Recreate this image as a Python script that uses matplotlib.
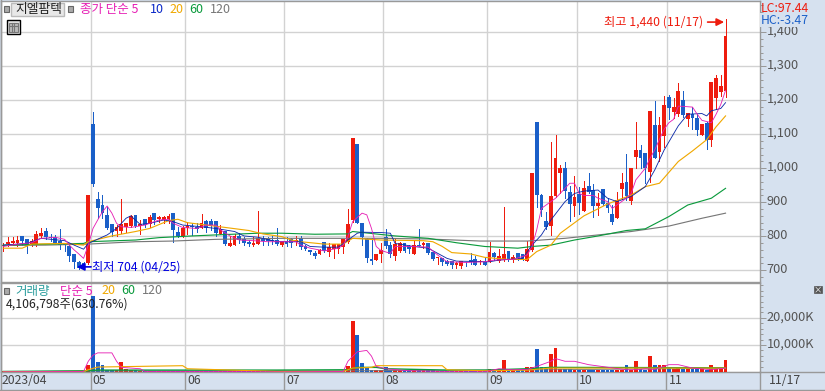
# stock chart with candles, moving averages and volume panel

import matplotlib
matplotlib.use("Agg")
import matplotlib.pyplot as plt
from matplotlib.patches import Rectangle
from matplotlib.ticker import MultipleLocator, FuncFormatter
from matplotlib.transforms import ScaledTranslation

plt.rcParams['font.family'] = ['Noto Sans CJK KR', 'DejaVu Sans']

# body top, body bottom, high, low
body_top = [774, 783, 785, 788, 801, 792, 786, 807, 810, 816, 799, 799, 787, 776, 772, 747, 724, 721, 921, 1130,
            910, 892, 862, 835, 828, 835, 838, 860, 862, 835, 851, 856, 868, 856, 856, 860, 868, 814, 825, 830,
            830, 828, 838, 845, 846, 846, 821, 815, 779, 802, 801, 791, 784, 779, 794, 791, 791, 790, 789, 786,
            786, 792, 789, 794, 770, 760, 750, 760, 783, 768, 776, 776, 791, 836, 1088, 1071, 838, 791, 732, 748,
            760, 799, 774, 777, 779, 780, 770, 773, 774, 779, 779, 754, 738, 735, 727, 727, 721, 727, 725, 729,
            732, 727, 724, 754, 752, 742, 747, 756, 740, 750, 749, 764, 985, 1135, 921, 845, 919, 1030, 1002, 1002,
            930, 916, 923, 942, 948, 936, 897, 938, 897, 866, 907, 958, 959, 1001, 1054, 1054, 1044, 1169, 1127, 1127,
            1187, 1210, 1180, 1227, 1201, 1163, 1159, 1149, 1131, 1134, 1254, 1265, 1242, 1389]
body_bot = [770, 777, 781, 781, 787, 774, 774, 774, 802, 797, 794, 781, 773, 773, 742, 723, 706, 711, 721, 953,
            884, 868, 823, 814, 816, 815, 828, 830, 830, 830, 833, 835, 848, 850, 848, 850, 819, 802, 802, 825,
            828, 821, 825, 825, 833, 809, 808, 777, 770, 773, 789, 779, 777, 773, 778, 786, 787, 785, 777, 773,
            777, 779, 782, 767, 763, 755, 743, 748, 757, 755, 762, 764, 768, 784, 848, 840, 797, 737, 727, 730,
            748, 772, 748, 742, 758, 758, 762, 748, 772, 774, 752, 733, 735, 724, 719, 716, 717, 713, 723, 723,
            717, 723, 717, 723, 738, 728, 732, 730, 732, 735, 733, 728, 760, 920, 877, 826, 830, 917, 987, 934,
            895, 889, 897, 874, 931, 889, 889, 895, 884, 843, 855, 939, 919, 904, 1033, 1029, 1001, 990, 1031, 1049,
            1095, 1178, 1166, 1161, 1157, 1144, 1149, 1113, 1097, 1082, 1082, 1208, 1225, 1227]
highs = [779, 797, 799, 801, 801, 792, 791, 816, 823, 823, 806, 803, 822, 776, 779, 747, 728, 725, 921, 1165,
         930, 921, 887, 835, 833, 910, 838, 863, 863, 848, 851, 863, 868, 860, 860, 866, 868, 828, 831, 841,
         838, 838, 866, 848, 850, 846, 833, 815, 801, 807, 809, 797, 789, 797, 874, 801, 799, 801, 823, 786,
         797, 794, 801, 801, 774, 760, 758, 762, 783, 779, 776, 776, 791, 880, 1088, 1071, 838, 794, 794, 748,
         779, 822, 784, 794, 782, 780, 774, 789, 822, 784, 779, 754, 738, 735, 730, 727, 724, 727, 725, 750,
         742, 730, 735, 784, 755, 762, 885, 756, 745, 750, 749, 786, 985, 1135, 924, 872, 1076, 1098, 1010, 1018,
         948, 977, 944, 964, 985, 954, 926, 938, 912, 892, 931, 987, 1042, 1001, 1136, 1069, 1044, 1169, 1198, 1151,
         1213, 1215, 1208, 1250, 1227, 1163, 1180, 1159, 1131, 1136, 1254, 1274, 1274, 1440]
lows = [758, 770, 774, 770, 774, 752, 770, 770, 799, 791, 787, 779, 762, 758, 728, 708, 704, 706, 719, 948,
        855, 853, 820, 801, 801, 809, 814, 828, 826, 807, 828, 828, 836, 843, 840, 838, 784, 799, 799, 807,
        804, 814, 823, 814, 819, 801, 807, 774, 770, 773, 779, 774, 770, 770, 777, 774, 774, 777, 774, 770,
        772, 768, 773, 763, 760, 748, 737, 748, 755, 742, 736, 750, 750, 781, 843, 838, 774, 725, 719, 730,
        724, 765, 740, 730, 755, 753, 752, 748, 770, 765, 748, 730, 718, 716, 716, 706, 706, 706, 713, 719,
        716, 719, 716, 723, 730, 725, 728, 728, 725, 730, 730, 728, 758, 887, 860, 821, 804, 915, 928, 913,
        846, 860, 866, 874, 926, 856, 863, 892, 870, 836, 855, 909, 907, 895, 1000, 1000, 957, 961, 1031, 1020,
        1063, 1144, 1149, 1154, 1152, 1125, 1115, 1098, 1097, 1056, 1066, 1174, 1213, 1210]
is_up = [1, 1, 1, 1, 0, 0, 1, 1, 1, 0, 0, 0, 0, 0, 0, 0, 0, 0, 1, 0,
         0, 0, 0, 0, 1, 1, 1, 1, 0, 1, 0, 1, 0, 1, 1, 1, 0, 0, 1, 1,
         0, 0, 1, 0, 0, 0, 1, 0, 1, 1, 0, 0, 0, 1, 1, 0, 0, 0, 0, 1,
         0, 0, 1, 0, 0, 0, 0, 1, 0, 1, 1, 1, 1, 1, 1, 0, 0, 0, 0, 1,
         1, 0, 0, 1, 1, 0, 0, 1, 0, 1, 0, 0, 1, 0, 0, 0, 1, 1, 0, 0,
         0, 1, 0, 1, 0, 1, 1, 0, 1, 0, 0, 1, 1, 0, 0, 0, 1, 1, 1, 0,
         0, 1, 0, 1, 0, 0, 1, 0, 0, 0, 1, 1, 0, 1, 1, 0, 0, 1, 0, 1,
         1, 0, 1, 1, 0, 1, 0, 0, 1, 0, 1, 1, 1, 1]

ma5_i = [0, 3, 6, 8, 11, 13, 14, 15, 16, 17, 18, 19, 20, 21, 22, 23, 24, 25, 27, 30, 33, 35, 36, 38, 41, 43, 45, 46,
         48, 50, 53, 56, 59, 62, 63, 65, 68, 71, 72, 73, 74, 76, 77, 78, 79, 80, 82, 83, 85, 87, 90, 92, 94, 98, 102,
         104, 108, 111, 112, 113, 114, 116, 117, 119, 120, 121, 122, 123, 125, 126, 128, 129, 130, 132, 133, 134,
         136, 137, 138, 139, 140, 141, 142, 143, 146, 147, 148, 150, 151, 152, 153]
ma5 = [770, 777, 781, 794, 797, 791, 774, 760, 748, 735, 774, 823, 848, 872, 889, 868, 838, 828, 826, 833, 848, 850,
       838, 826, 823, 833, 833, 819, 801, 789, 787, 784, 784, 784, 774, 765, 757, 765, 774, 799, 843, 868, 863, 823,
       770, 758, 750, 770, 770, 770, 768, 745, 725, 723, 725, 730, 732, 745, 770, 819, 882, 902, 912, 941, 956, 956,
       926, 920, 920, 912, 902, 882, 892, 912, 926, 966, 1000, 1029, 1054, 1085, 1115, 1134, 1144, 1183, 1180, 1159,
       1141, 1134, 1159, 1188, 1229]
ma10_i = [0, 5, 8, 13, 15, 17, 18, 22, 24, 26, 27, 29, 31, 34, 36, 38, 42, 45, 49, 51, 54, 58, 63, 65, 68, 71, 73, 75,
          76, 80, 82, 83, 87, 90, 92, 94, 96, 103, 105, 110, 111, 112, 114, 116, 119, 121, 123, 126, 128, 130, 133,
          136, 138, 140, 143, 145, 148, 149, 150, 152, 153]
ma10 = [774, 779, 794, 787, 774, 762, 779, 804, 823, 853, 860, 835, 838, 848, 843, 833, 828, 823, 814, 801, 797, 784,
        784, 770, 768, 768, 789, 809, 812, 811, 809, 779, 770, 765, 750, 735, 727, 725, 730, 735, 755, 774, 804, 848,
        902, 926, 933, 936, 912, 902, 917, 946, 995, 1054, 1125, 1159, 1161, 1154, 1169, 1176, 1193]
ma20_i = [0, 4, 6, 13, 17, 18, 23, 28, 31, 35, 37, 39, 43, 47, 52, 55, 59, 61, 63, 68, 72, 74, 80, 89, 91, 93, 95, 99,
          102, 107, 111, 113, 116, 118, 123, 128, 133, 136, 139, 143, 146, 149, 151, 153]
ma20 = [765, 765, 777, 779, 774, 784, 801, 814, 823, 846, 850, 840, 833, 826, 817, 807, 799, 789, 784, 777, 777, 794,
        789, 787, 784, 770, 752, 748, 738, 732, 732, 755, 774, 809, 860, 895, 921, 946, 956, 1020, 1051, 1084, 1122,
        1154]
ma60_i = [0, 17, 18, 28, 33, 40, 45, 54, 59, 66, 73, 74, 83, 90, 96, 102, 109, 112, 116, 121, 126, 132, 136, 141, 145,
          150, 153]
ma60 = [774, 779, 784, 789, 796, 801, 804, 809, 809, 806, 807, 814, 801, 794, 781, 770, 765, 770, 774, 789, 801, 817,
        822, 858, 892, 912, 941]
ma120_i = [0, 9, 18, 28, 36, 45, 59, 80, 90, 101, 111, 119, 126, 133, 141, 148, 153]
ma120 = [773, 774, 777, 784, 786, 791, 794, 794, 792, 786, 786, 794, 804, 814, 830, 853, 868]

volume = [400, 100, 100, 100, 100, 500, 100, 500, 150, 200, 100, 100, 200, 100, 150, 500, 300, 200, 2500, 28000,
          3600, 2500, 900, 700, 800, 3600, 1000, 800, 800, 500, 500, 500, 500, 500, 500, 500, 500, 500, 500, 300,
          300, 300, 300, 300, 300, 300, 300, 300, 300, 300, 300, 300, 300, 300, 300, 300, 300, 300, 300, 300,
          300, 300, 300, 300, 300, 300, 300, 300, 300, 300, 300, 300, 300, 2100, 19000, 13750, 3250, 1750, 900, 900,
          900, 1750, 800, 800, 800, 800, 800, 800, 800, 800, 800, 800, 600, 600, 600, 600, 600, 600, 600, 600,
          600, 600, 600, 1250, 600, 600, 4400, 1250, 800, 800, 800, 1750, 1750, 8500, 1750, 1250, 6750, 8900, 1250, 1250,
          1250, 800, 800, 800, 800, 800, 800, 800, 800, 800, 800, 800, 2500, 800, 4000, 1250, 800, 5900, 2750, 2500,
          2500, 1750, 1250, 1500, 1250, 1250, 1250, 1250, 1250, 800, 2500, 1250, 1250, 4400]
vol5_i = [0, 17, 18, 19, 20, 23, 24, 25, 29, 30, 45, 59, 72, 73, 75, 77, 78, 79, 81, 86, 96, 102, 105, 108, 111, 113,
          116, 117, 119, 121, 124, 132, 134, 136, 138, 141, 143, 146, 150, 153]
vol5 = [100, 250, 4000, 6250, 7100, 7100, 4000, 1750, 1250, 250, 250, 100, 250, 4000, 7500, 8000, 5900, 2100, 1250,
        500, 150, 150, 1250, 875, 1000, 2100, 4000, 5000, 4000, 4000, 2750, 875, 875, 1250, 1000, 2750, 2750, 1500,
        875, 1500]
vol20_i = [0, 17, 18, 20, 38, 39, 58, 72, 74, 78, 79, 93, 94, 102, 111, 116, 153]
vol20 = [150, 250, 875, 1875, 2375, 1250, 250, 250, 1500, 1750, 2375, 2375, 875, 500, 750, 1500, 1500]
vol60_i = [0, 18, 20, 58, 73, 75, 79, 81, 94, 102, 111, 116, 153]
vol60 = [250, 500, 750, 750, 875, 1750, 1750, 1250, 750, 750, 1250, 1750, 1600]
vol120_i = [0, 20, 73, 94, 111, 153]
vol120 = [200, 400, 500, 700, 800, 1400]

price_ticks = [700, 800, 900, 1000, 1100, 1200, 1300, 1400]
month_start = [19, 39, 60, 81, 103, 122, 141]
month_names = ["05", "06", "07", "08", "09", "10", "11"]

RED = "#ee1c0e"
BLUE = "#1a5fc8"
MAGENTA = "#e61eb4"
NAVY = "#0a28a8"
ORANGE = "#f0a800"
GREEN = "#0a9a3c"
GRAY = "#777777"
GRID = "#d2d2d2"
FRAME = "#999999"
STRIP = "#d6e1ef"
W, H = 825, 391
PX = 0.72  # one pixel in points
LINE = 0.62  # moving average lines, antialiased
BAR_W = 0.8


def fx(px):
    return px / W


def fy(py):
    return 1 - py / H


def box(fig, x0, y0, x1, y1, **kw):
    fig.add_artist(Rectangle((fx(x0), fy(y1)), (x1 - x0) / W, (y1 - y0) / H, transform=fig.transFigure, **kw))


def label(fig, px, py, s, color, size=9.0, **kw):
    fig.text(fx(px), fy(py), s, color=color, fontsize=size, va="center", ha=kw.pop("ha", "left"), **kw)


def vline(fig, px, y0, y1):
    fig.add_artist(plt.Line2D([fx(px), fx(px)], [fy(y0), fy(y1)], color=FRAME, lw=1.4 * PX))


fig = plt.figure(figsize=(W / 100, H / 100), dpi=100, facecolor=STRIP)
ax = fig.add_axes([fx(1), fy(281.5), fx(760) - fx(1), fy(1) - fy(281.5)])
ax_v = fig.add_axes([fx(1), fy(372.3), fx(760) - fx(1), fy(282.5) - fy(372.3)])

x_left = -0.487
x_right = 160.3
days = list(range(len(body_top)))
up_col = [RED if u else BLUE for u in is_up]

for a in (ax, ax_v):
    a.set_xlim(x_left, x_right)
    a.set_xticks([m - 0.5 for m in month_start])
    a.tick_params(axis="x", length=0, labelbottom=False)
    a.yaxis.tick_right()
    a.grid(True, color=GRID, lw=1.4 * PX)
    a.set_axisbelow(True)
    for s in a.spines.values():
        s.set_color(FRAME)
        s.set_linewidth(1.4 * PX)
    a.tick_params(axis="y", which="major", length=6 * PX, width=PX, color=FRAME, labelcolor="#555555",
                  labelsize=9.2, pad=0.6)
    a.tick_params(axis="y", which="minor", length=3 * PX, width=PX, color=FRAME)

# price panel
ax.set_ylim(667, 1492)
ax.set_yticks(price_ticks)
ax.yaxis.set_minor_locator(MultipleLocator(20))
ax.yaxis.set_major_formatter(FuncFormatter(lambda v, p: f"{int(v):,}"))
ax.vlines(days, lows, highs, colors=up_col, lw=PX, antialiased=False, zorder=2)
ax.bar(days, [t - b for t, b in zip(body_top, body_bot)], bottom=body_bot, width=BAR_W, color=up_col,
       antialiased=False, zorder=3)
ax.plot(ma120_i, ma120, color=GRAY, lw=LINE + 0.2, zorder=4)
ax.plot(ma60_i, ma60, color=GREEN, lw=LINE + 0.2, zorder=4)
ax.plot(ma20_i, ma20, color=ORANGE, lw=LINE + 0.2, zorder=4)
ax.plot(ma10_i, ma10, color=NAVY, lw=LINE, zorder=5)
ax.plot(ma5_i, ma5, color=MAGENTA, lw=LINE, zorder=5)

ax.annotate("", xy=(152.7, 1430), xytext=(149.2, 1430), zorder=6,
            arrowprops=dict(arrowstyle="-|>", color=RED, lw=1.2, mutation_scale=11, shrinkA=0, shrinkB=0))
ax.annotate("", xy=(15.6, 710), xytext=(18.6, 710), zorder=6,
            arrowprops=dict(arrowstyle="-|>", color="#0000e0", lw=1.2, mutation_scale=11, shrinkA=0, shrinkB=0))
ax.text(148.3, 1430, "최고 1,440 (11/17)", color=RED, fontsize=8.8, ha="right", va="center", zorder=6)
ax.text(18.7, 710, "최저 704 (04/25)", color="#0000e0", fontsize=8.8, ha="left", va="center", zorder=6)

# volume panel
ax_v.set_ylim(-60, 33030)
ax_v.set_yticks([0, 10000, 20000])
ax_v.set_yticklabels(["", "10,000K", "20,000K"])
ax_v.yaxis.set_minor_locator(MultipleLocator(2000))
ax_v.bar(days, volume, width=BAR_W, color=up_col, antialiased=False, zorder=3)
ax_v.plot(vol120_i, vol120, color=GRAY, lw=LINE, zorder=4)
ax_v.plot(vol60_i, vol60, color=GREEN, lw=1.0, zorder=4)
ax_v.plot(vol20_i, vol20, color=ORANGE, lw=LINE + 0.2, zorder=5)
ax_v.plot(vol5_i, vol5, color=MAGENTA, lw=LINE, zorder=6)

# tick labels sit a little above their ticks
for a in (ax, ax_v):
    for t in a.get_yticklabels():
        t.set_transform(t.get_transform() + ScaledTranslation(0, 1.6 / 72, fig.dpi_scale_trans))

# date strip
fig.add_artist(plt.Line2D([fx(0), fx(825)], [fy(389.5), fy(389.5)], color=FRAME, lw=1.4 * PX))
vline(fig, 0.5, 0, 390)
fig.add_artist(plt.Line2D([fx(760), fx(825)], [fy(372.3), fy(372.3)], color=FRAME, lw=1.4 * PX))
vline(fig, 760, 372, 390)
label(fig, 2, 381, "2023/04", "#444444", 8.8)
for m, name in zip(month_start, month_names):
    px = 3.3 + 4.72 * (m - 0.5)
    vline(fig, px, 372, 390)
    label(fig, px + 2, 381, name, "#444444", 8.8)
label(fig, 769, 381, "11/17", "#444444", 8.8)

# header of the price panel
box(fig, 4, 6, 9, 12, facecolor="#aaaaaa", edgecolor="#666666", lw=0.8)
box(fig, 11, 3, 64, 16, facecolor="#e8e8e8", edgecolor="#bbbbbb", lw=1.0)
label(fig, 15, 9.5, "지엘팜텍", "#222222", 9.2)
box(fig, 68, 6, 73, 12, facecolor="#aaaaaa", edgecolor="#666666", lw=0.8)
label(fig, 80, 9.5, "종가 단순 5", MAGENTA, 9.0)
label(fig, 150, 9.5, "10", "#0a28c8", 9.0)
label(fig, 169, 9.5, "20", ORANGE, 9.0)
label(fig, 189, 9.5, "60", GREEN, 9.0)
label(fig, 210, 9.5, "120", GRAY, 9.0)

box(fig, 6.5, 20.5, 19.5, 33.5, facecolor="#e8e8e8", edgecolor="black", lw=1.0)
box(fig, 8.5, 22.5, 17.5, 31.5, facecolor="#bbbbbb", edgecolor="#777777", lw=0.8)
for gx in (11.5, 14.5):
    fig.add_artist(plt.Line2D([fx(gx), fx(gx)], [fy(22.5), fy(31.5)], color="#777777", lw=0.8))
fig.add_artist(plt.Line2D([fx(8.5), fx(17.5)], [fy(26), fy(26)], color="#777777", lw=0.8))

# LC / HC box
label(fig, 761, 8.5, "LC:97.44", RED, 8.8)
fig.text(fx(761), fy(20), "HC:-3.47", color=BLUE, fontsize=8.8, va="center", ha="left",
         bbox=dict(facecolor=STRIP, edgecolor="none", pad=0.6))

# header of the volume panel
box(fig, 4, 288, 9, 294, facecolor="#aaaaaa", edgecolor="#666666", lw=0.8)
label(fig, 15, 291, "거래량", "#2a9d9d", 9.0)
label(fig, 60, 291, "단순 5", MAGENTA, 9.0)
label(fig, 101, 291, "20", ORANGE, 9.0)
label(fig, 121, 291, "60", GREEN, 9.0)
label(fig, 142, 291, "120", GRAY, 9.0)
label(fig, 6, 304.5, "4,106,798주(630.76%)", "#222222", 8.8)

box(fig, 814, 286, 822, 293, facecolor="#555555", edgecolor="#555555", lw=0.5)
fig.text(fx(818), fy(289.5), "×", color="white", fontsize=6, ha="center", va="center")

fig.savefig("out.png", dpi=100, facecolor=STRIP)
